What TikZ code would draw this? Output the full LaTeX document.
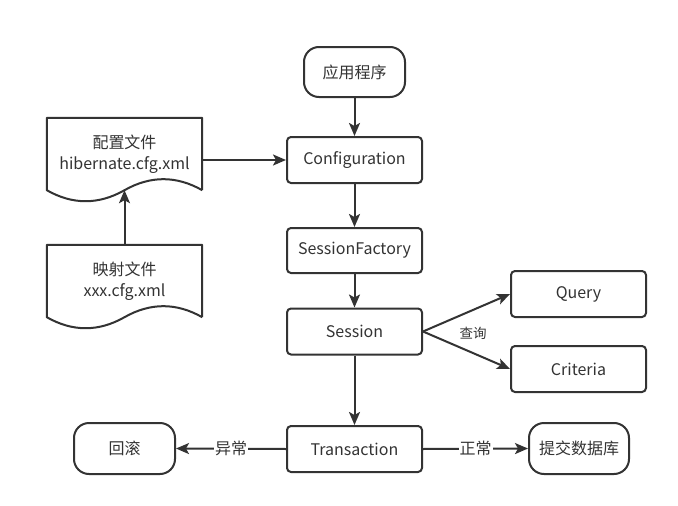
\documentclass[tikz,border=0pt]{standalone}
\usepackage{fontspec}
\setmainfont{Noto Sans CJK SC}
\usetikzlibrary{arrows.meta,calc}
\definecolor{ink}{HTML}{333333}
\tikzset{
  box/.style={draw=ink, line width=2pt, rounded corners=4pt, minimum width=135pt, minimum height=46pt, inner sep=0pt, text=ink, font=\fontsize{16}{21}\selectfont},
  term/.style={draw=ink, line width=2pt, rounded corners=15pt, minimum width=101pt, minimum height=50pt, inner sep=0pt, text=ink, font=\fontsize{16}{21}\selectfont},
  docbox/.style={minimum width=155pt, minimum height=72pt, inner sep=0pt, align=center, text=ink, font=\fontsize{16}{20.5}\selectfont},
  docline/.style={draw=ink, line width=2pt, line join=round},
  conn/.style={draw=ink, line width=2pt, -{Stealth[length=13pt,width=11pt,inset=3pt]}},
  elabel/.style={fill=white, text=ink, inner sep=1pt, font=\fontsize{16}{19}\selectfont},
  slabel/.style={text=ink, inner sep=0pt, font=\fontsize{13.5}{16}\selectfont}
}
\begin{document}
\begin{tikzpicture}[x=1pt,y=-1pt]
\useasboundingbox[fill=white] (0,0) rectangle (678,506);
% nodes
\node[term] (app) at (354.5,72) {应用程序};
\node[box] (conf) at (354.5,160) {Configuration};
\node[box, minimum height=45pt] (sf) at (354.5,250.5) {SessionFactory};
\node[box] (sess) at (354.5,331.5) {Session};
\node[box] (query) at (578.5,294) {Query};
\node[box] (crit) at (578.5,369) {Criteria};
\node[box] (trans) at (354.5,449) {Transaction};
\node[term, minimum height=51pt] (rollback) at (124.5,448.5) {回滚};
\node[term, minimum width=100pt, minimum height=51pt] (commit) at (579,448.5) {提交数据库};
\node[docbox] (cfgdoc) at (124.5,154) {配置文件\\hibernate.cfg.xml};
\node[docbox] (mapdoc) at (124.5,281) {映射文件\\xxx.cfg.xml};
% document outlines
\foreach \n in {cfgdoc,mapdoc}{
  \draw[docline] (\n.south east) -- (\n.north east) -- (\n.north west) -- (\n.south west)
    .. controls +(25.83,14.7) and +(-25.83,14.7) .. (\n.south)
    .. controls +(25.83,-14.7) and +(-25.83,-14.7) .. (\n.south east);
}
% connectors
\draw[conn] (app) -- (conf);
\draw[conn] (conf) -- (sf);
\draw[conn] (sf) -- (sess);
\draw[conn] (sess) -- (trans);
\draw[conn] (cfgdoc.east |- conf.west) -- (conf.west);
\draw[conn] (mapdoc.north) -- (cfgdoc.south);
\draw[conn] (sess.east) -- (query.west);
\draw[conn] (sess.east) -- (crit.west);
\node[slabel] (qlabel) at (473,333) {查询};
\draw[conn] (trans.west) -- node[elabel] {异常} (rollback.east);
\draw[conn] (trans.east) -- node[elabel] {正常} (commit.west);
\end{tikzpicture}
\end{document}
